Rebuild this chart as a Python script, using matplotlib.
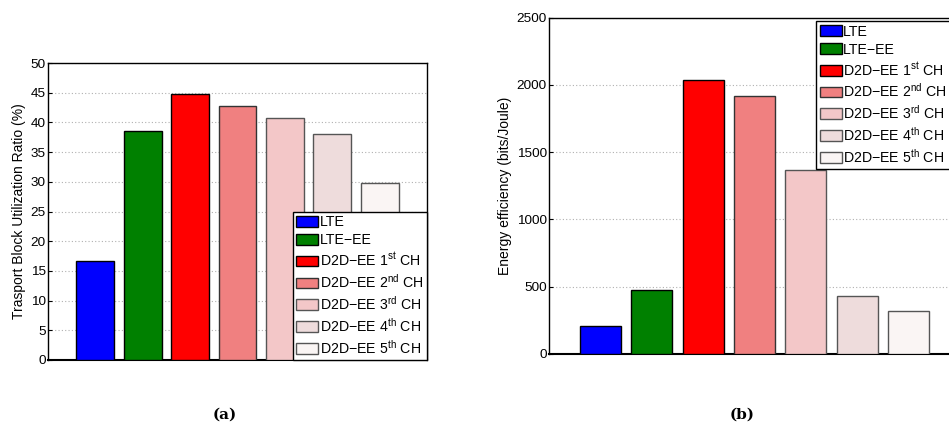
import matplotlib
matplotlib.use("Agg")
import matplotlib.pyplot as plt
import numpy as np
from matplotlib.patches import Patch

plt.rcParams['font.family'] = ['Liberation Sans', 'DejaVu Sans']
plt.rcParams['mathtext.fontset'] = 'custom'
plt.rcParams['mathtext.rm'] = 'Liberation Sans'
plt.rcParams['mathtext.it'] = 'Liberation Sans'

# data
schemes = ['LTE', 'LTE\u2212EE',
           'D2D\u2212EE 1$^{\\mathrm{st}}$ CH',
           'D2D\u2212EE 2$^{\\mathrm{nd}}$ CH',
           'D2D\u2212EE 3$^{\\mathrm{rd}}$ CH',
           'D2D\u2212EE 4$^{\\mathrm{th}}$ CH',
           'D2D\u2212EE 5$^{\\mathrm{th}}$ CH']
tb_utilization = [16.6, 38.5, 44.8, 42.8, 40.8, 38.1, 29.8]
energy_eff = [210, 478, 2032, 1920, 1365, 433, 320]
tb_ticks = [0, 5, 10, 15, 20, 25, 30, 35, 40, 45, 50]
ee_ticks = [0, 500, 1000, 1500, 2000, 2500]

colors = ['#0000ff', '#008000', '#ff0000', '#f08080', '#f3c7c8', '#eedcdc', '#faf5f4']
edges = ['black', 'black', 'black', '#333333', '#555555', '#555555', '#555555']

W, H = 949, 426
fig = plt.figure(figsize=(W / 100, H / 100), dpi=100)


def px_axes(l, t, r, b):
    return fig.add_axes([l / W, 1 - b / H, (r - l) / W, (b - t) / H])


def draw_bars(ax, values, ticks, ylabel):
    x = np.arange(1, len(values) + 1)
    ax.bar(x, values, width=0.8, color=colors, edgecolor=edges, linewidth=1.0, zorder=3)
    ax.set_xlim(0, 8)
    ax.set_ylim(ticks[0], ticks[-1])
    ax.set_xticks([])
    ax.set_yticks(ticks)
    ax.tick_params(axis='y', direction='in', length=3, pad=1.5, labelsize=9.7, width=0.8)
    ax.yaxis.grid(True, linestyle=(0, (1, 2)), color='#b0b0b0', linewidth=0.8, zorder=0)
    ax.set_axisbelow(True)
    for s in ax.spines.values():
        s.set_linewidth(1.0)
    ax.spines['bottom'].set_linewidth(1.5)
    ax.set_ylabel(ylabel, fontsize=10, labelpad=3)
    handles = [Patch(facecolor=c, edgecolor=e, linewidth=1.0) for c, e in zip(colors, edges)]
    return handles


leg_kw = dict(fontsize=10.2, frameon=True, fancybox=False, framealpha=1, edgecolor='black',
              handlelength=1.55, handleheight=0.8, handletextpad=0.1, labelspacing=0.28,
              borderpad=0.25, borderaxespad=0)

ax1 = px_axes(48, 63, 427, 360)
h = draw_bars(ax1, tb_utilization, tb_ticks, 'Trasport Block Utilization Ratio (%)')
lg = ax1.legend(h, schemes, loc='lower right', bbox_to_anchor=(1, 0), **leg_kw)
lg.get_frame().set_linewidth(1.0)
lg.set_zorder(5)

ax2 = px_axes(549, 17.5, 960, 354)
h = draw_bars(ax2, energy_eff, ee_ticks, 'Energy efficiency (bits/Joule)')
lg = ax2.legend(h, schemes, loc='upper left', bbox_to_anchor=(816 / W, 1 - 21 / H),
                bbox_transform=fig.transFigure, **leg_kw)
lg.get_frame().set_linewidth(1.0)
lg.set_zorder(5)

fig.text(225 / W, 1 - 415 / H, '(a)', ha='center', va='center',
         fontsize=11, fontweight='bold', family='DejaVu Serif')
fig.text(742 / W, 1 - 415 / H, '(b)', ha='center', va='center',
         fontsize=11, fontweight='bold', family='DejaVu Serif')

fig.savefig('out.png', dpi=100)
